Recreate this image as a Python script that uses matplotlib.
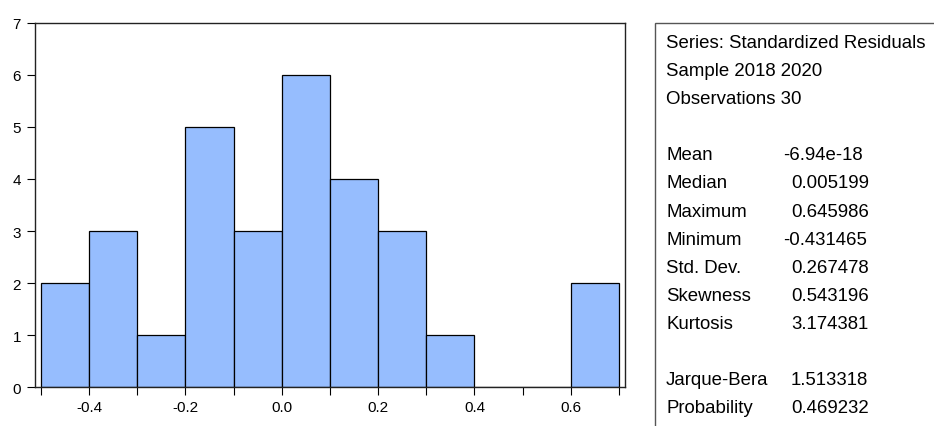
import numpy as np
import matplotlib.pyplot as plt
from matplotlib.patches import Rectangle

plt.rcParams['font.family'] = ['Liberation Sans', 'DejaVu Sans']
plt.rcParams['axes.unicode_minus'] = False

# Histogramm-Daten (Klassen der Breite 0.1)
bin_edges = [-0.5, -0.4, -0.3, -0.2, -0.1, 0.0, 0.1, 0.2, 0.3, 0.4, 0.5, 0.6, 0.7]
counts = [2, 3, 1, 5, 3, 6, 4, 3, 1, 0, 0, 2]

x_ticks = [-0.5, -0.4, -0.3, -0.2, -0.1, 0.0, 0.1, 0.2, 0.3, 0.4, 0.5, 0.6, 0.7]
x_labels = ["", "-0.4", "", "-0.2", "", "0.0", "", "0.2", "", "0.4", "", "0.6", ""]
y_ticks = [0, 1, 2, 3, 4, 5, 6, 7]

# Statistik-Kasten
header_lines = ["Series: Standardized Residuals", "Sample 2018 2020", "Observations 30"]
stat_names = ["Mean", "Median", "Maximum", "Minimum", "Std. Dev.", "Skewness", "Kurtosis"]
stat_values = ["-6.94e-18", "0.005199", "0.645986", "-0.431465", "0.267478", "0.543196", "3.174381"]
test_names = ["Jarque-Bera", "Probability"]
test_values = ["1.513318", "0.469232"]

W, H = 934, 427
fig = plt.figure(figsize=(W / 100, H / 100), dpi=100)
ax = fig.add_axes([34.5 / W, 1 - 388.3 / H, (625 - 34.5) / W, (388.3 - 23.7) / H])

widths = np.diff(bin_edges)
ax.bar(bin_edges[:-1], counts, width=widths, align="edge",
       color="#96BDFE", edgecolor="black", linewidth=0.9)

ax.set_xlim(-0.5135, 0.7125)
ax.set_ylim(0, 7)
ax.set_xticks(x_ticks)
ax.set_xticklabels(x_labels)
ax.set_yticks(y_ticks)
ax.tick_params(axis="both", direction="out", width=0.8, labelsize=11, length=5.8)
ax.tick_params(axis="x", pad=3.5)
ax.tick_params(axis="y", pad=4)
for s in ax.spines.values():
    s.set_linewidth(1.0)
    s.set_color("#222222")

# Kasten rechts
box = Rectangle((654.7 / W, -0.05), 0.5, 1 - 23.7 / H + 0.05, transform=fig.transFigure,
                fill=False, edgecolor="#555555", linewidth=1.0)
fig.add_artist(box)

fs = 13.4
lx = 666 / W
y0 = 48
step = 28.1
rows = []
for t in header_lines:
    rows.append((t, None))
rows.append(("", None))
for n, v in zip(stat_names, stat_values):
    rows.append((n, v))
rows.append(("", None))
for n, v in zip(test_names, test_values):
    rows.append((n, v))

for i, (name, val) in enumerate(rows):
    y = 1 - (y0 + i * step) / H
    if name:
        fig.text(lx, y, name, fontsize=fs, va="baseline", ha="left")
    if val is not None:
        vx = 783 if val.startswith("-") else 791
        fig.text(vx / W, y, val, fontsize=fs, va="baseline", ha="left")

fig.savefig("out.png", dpi=100)
